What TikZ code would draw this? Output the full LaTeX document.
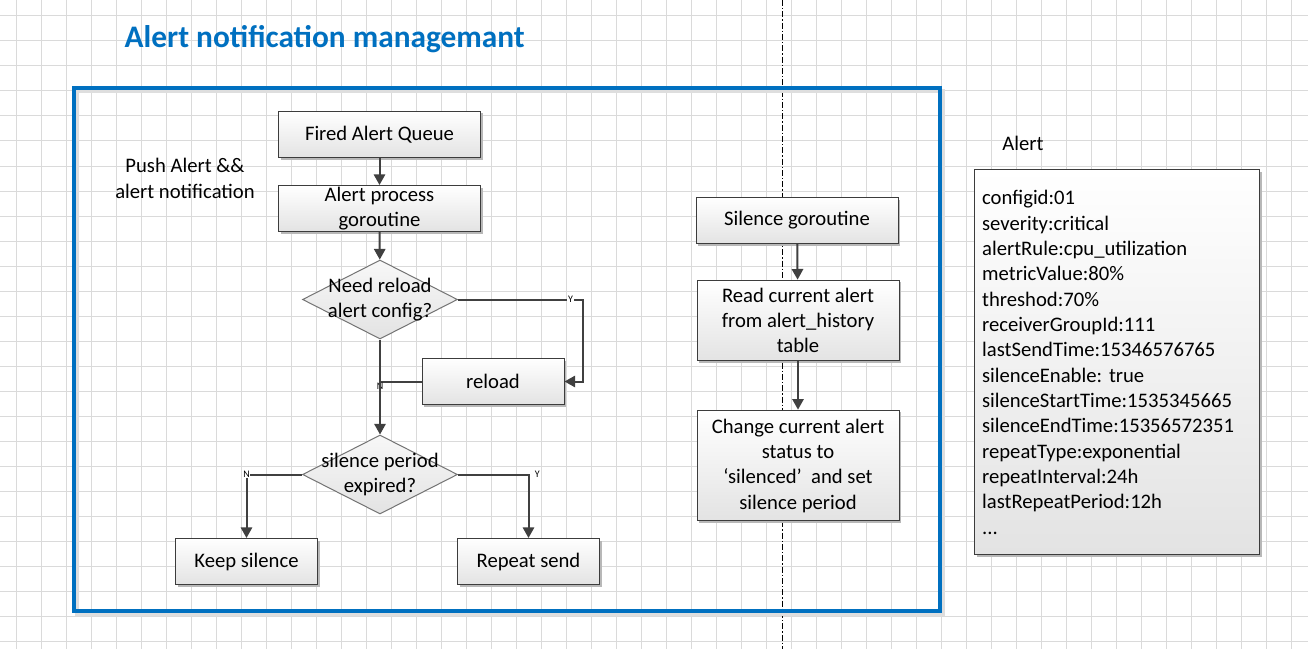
\documentclass[tikz,border=0pt]{standalone}
\usepackage{fontspec}
\setmainfont{Carlito}
\frenchspacing
\usetikzlibrary{shapes.geometric,arrows.meta,shadows}
\definecolor{framecolor}{RGB}{0,112,192}
\definecolor{gridcolor}{RGB}{218,218,218}
\definecolor{linecolor}{RGB}{64,64,64}
\definecolor{boxedge}{RGB}{60,60,60}

\tikzset{
	stepbox/.style={draw=boxedge, line width=0.75pt, top color=white, bottom color=black!11,
		drop shadow={shadow xshift=1.5pt, shadow yshift=-1.5pt, fill=black!28, opacity=1},
		align=center, inner sep=0pt, minimum height=34.5pt, font=\fontsize{15.5}{19}\selectfont},
	wide/.style={minimum width=151.5pt},
	narrow/.style={minimum width=106.5pt},
	decision/.style={diamond, draw=black!55, line width=0.75pt, top color=black!3, bottom color=black!11,
		inner sep=0pt, minimum width=116.25pt, minimum height=59.25pt},
	asktext/.style={align=center, font=\fontsize{15.5}{19}\selectfont},
	flow/.style={draw=linecolor, line width=1.5pt, -{Triangle[length=8pt,width=8.5pt]}},
	link/.style={draw=linecolor, line width=1.5pt},
	yn/.style={font=\fontsize{7.5}{8}\selectfont, inner sep=0.5pt},
	plain/.style={font=\fontsize{15.5}{19}\selectfont, align=center}
}

\begin{document}
\begin{tikzpicture}[x=0.75pt, y=-0.75pt]
	\useasboundingbox (0,0) rectangle (1308,649);
	\fill[white] (0,0) rectangle (1308,649);
	% background grid
	\foreach \gx in {16.5,41.5,...,1308} \draw[gridcolor, line width=0.75pt] (\gx,0) -- (\gx,649);
	\foreach \gy in {16,41,...,649} \draw[gridcolor, line width=0.75pt] (0,\gy) -- (1308,\gy);
	% separator
	\draw[black, line width=0.75pt, dash pattern=on 4.5pt off 1.5pt on 1pt off 1.5pt] (782,0) -- (782,649);
	% frame
	\draw[black!13, line width=3pt] (77,91) rectangle (943,614);
	\draw[framecolor, line width=3pt] (74,88) rectangle (940,611);
	\node[anchor=base west, text=framecolor, font=\bfseries\fontsize{23.5}{28}\selectfont] (heading) at (120,48) {Alert notification managemant};
	\node[plain] (pushnote) at (185,178.5) {Push Alert \&\&\\alert notification};

	% push alert flow
	\node[stepbox, wide] (fired) at (379.5,134.5) {Fired Alert Queue};
	\node[stepbox, wide] (process) at (379.5,208.5) {Alert process\\goroutine};
	\node[decision, label={[asktext]center:Need reload\\alert config?}] (reloadq) at (380,299.5) {};
	\node[stepbox, narrow] (reload) at (493,381.5) {reload};
	\node[decision, label={[asktext]center:silence period\\expired?}] (expired) at (380,474.5) {};
	\node[stepbox, narrow] (keep) at (246.5,561.5) {Keep silence};
	\node[stepbox, narrow] (repeat) at (528.5,561.5) {Repeat send};

	\draw[flow] (fired) -- (process);
	\draw[flow] (process) -- (reloadq);
	\draw[flow] (reloadq.east) -- node[yn, fill=white, pos=0.9]{Y} ++(125,0) |- (reload.east);
	\draw[link] (reload.west) -- (reload.west -| reloadq.south) node[yn, anchor=north]{N};
	\draw[flow] (reloadq) -- (expired);
	\draw[flow] (expired.west) -| node[yn, fill=white, pos=0.5]{N} (keep.north);
	\draw[flow] (expired.east) -| node[yn, pos=0.5, anchor=west, xshift=3.5pt]{Y} (repeat.north);

	% silence flow
	\node[stepbox, wide] (silgo) at (797,220.5) {Silence goroutine};
	\node[stepbox, wide, minimum height=60.5pt] (readalert) at (798,320.5) {Read current alert\\from alert\_history\\table};
	\node[stepbox, wide, minimum height=83pt] (change) at (798,465.5) {Change current alert\\status to\\‘silenced’\ \ and set\\silence period};
	\draw[flow] (silgo) -- (readalert);
	\draw[flow] (readalert) -- (change);

	% alert record
	\node[plain] (alerthead) at (1023,143) {Alert};
	\node[stepbox, anchor=north west, minimum width=213.75pt, minimum height=288.75pt,
		text width=202.75pt, inner xsep=5.5pt, align=left] (alertbox) at (974.3,169.3)
		{configid:01\\severity:critical\\alertRule:cpu\_utilization\\metricValue:80\%\\threshod:70\%\\receiverGroupId:111\\lastSendTime:15346576765\\silenceEnable: true\\silenceStartTime:1535345665\\silenceEndTime:15356572351\\repeatType:exponential\\repeatInterval:24h\\lastRepeatPeriod:12h\\...};
\end{tikzpicture}
\end{document}
